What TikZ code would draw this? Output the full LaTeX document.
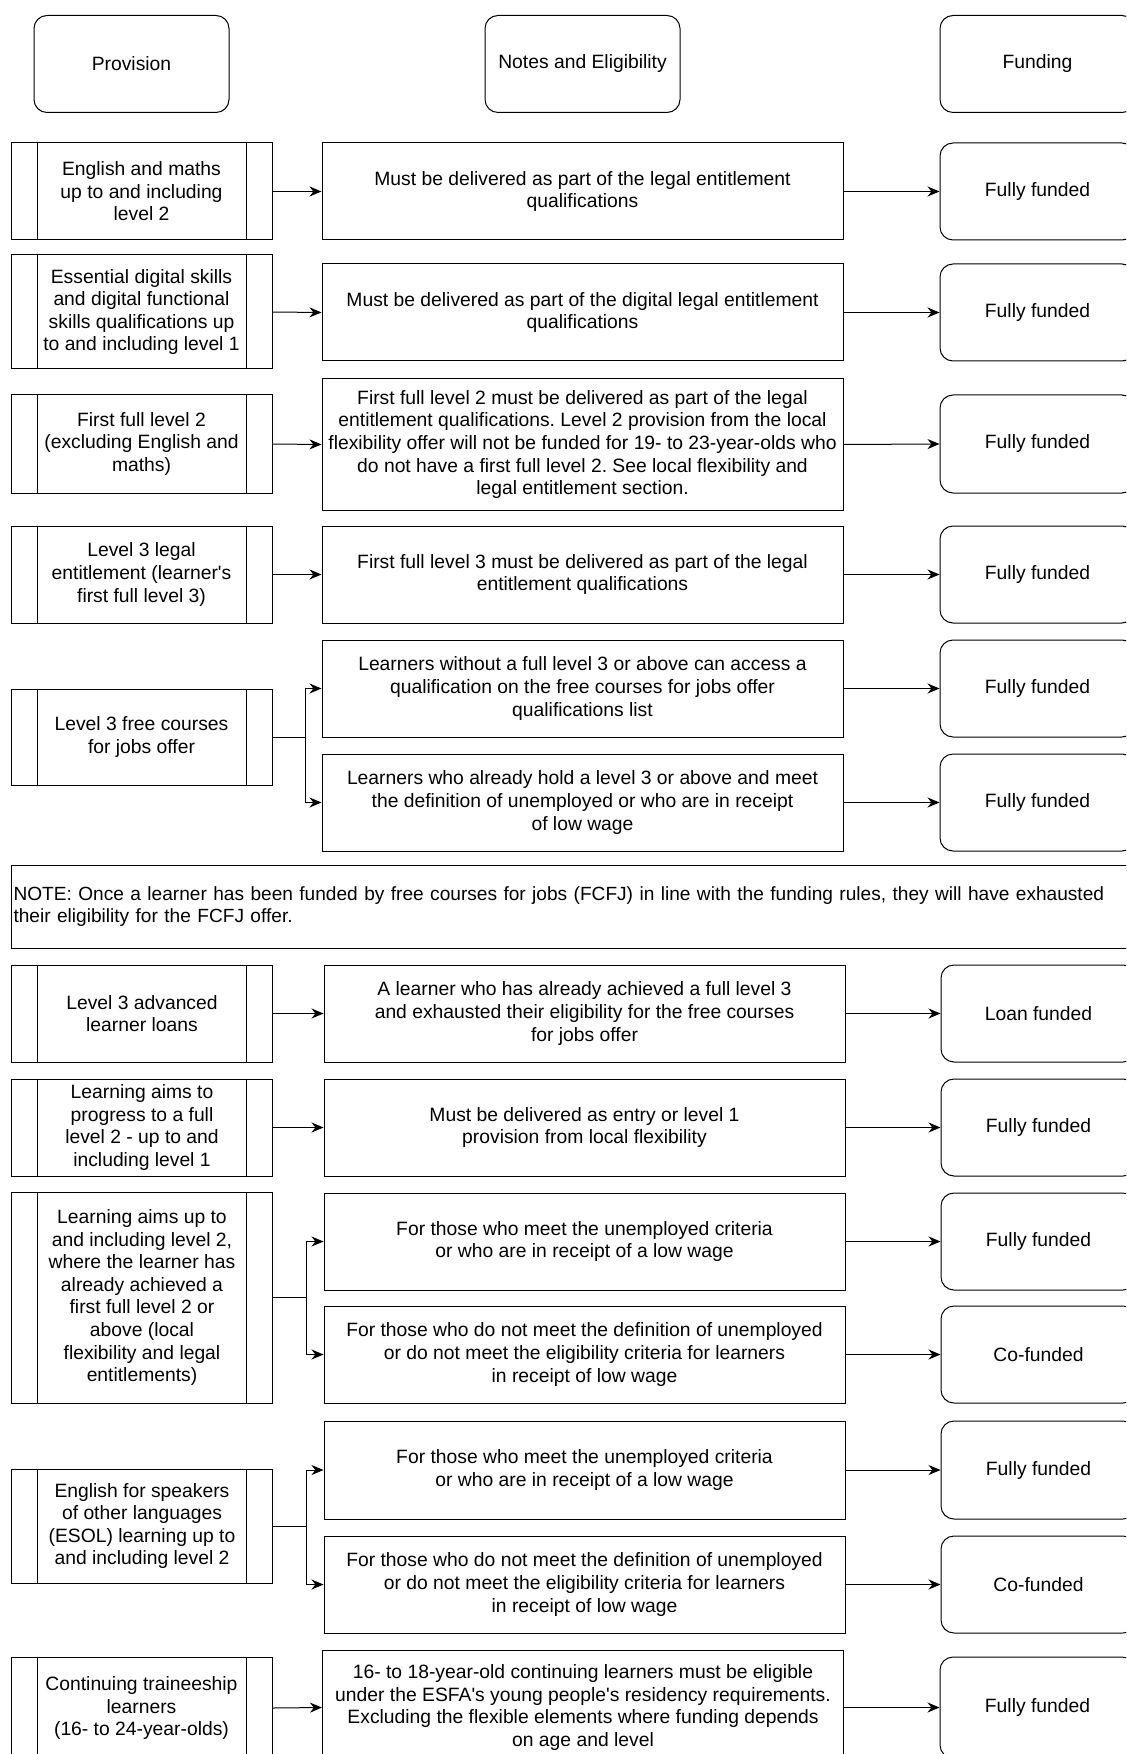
\documentclass[tikz,border=0pt]{standalone}
\usepackage{fontspec}
\setmainfont{Liberation Sans}
\usetikzlibrary{arrows.meta}

\tikzset{
  >={Stealth[length=6pt,width=5pt]},
  every node/.style={font=\fontsize{9.65}{11.3}\selectfont, align=center, inner sep=1pt},
  head/.style={draw, rounded corners=6.5pt, minimum width=97.5pt, minimum height=48.5pt},
  prov/.style={draw, minimum width=130.5pt, path picture={
      \draw ([xshift=13pt]path picture bounding box.north west) -- ([xshift=13pt]path picture bounding box.south west);
      \draw ([xshift=-13pt]path picture bounding box.north east) -- ([xshift=-13pt]path picture bounding box.south east);}},
  elig/.style={draw, minimum width=260.5pt},
  fund/.style={draw, rounded corners=6.5pt, minimum width=97.5pt},
  remark/.style={draw, anchor=west, text width=560pt, align=left, minimum height=41.5pt}
}

\begin{document}
\frenchspacing
\begin{tikzpicture}[x=0.5pt, y=-0.5pt, line width=0.5pt]

  \newcommand\Lx{141.5}
  \newcommand\Mx{582.5}
  \newcommand\Rx{1037.5}

  \useasboundingbox (0,0) rectangle (1126,1754);
  \clip (0,0) rectangle (1126,1754);

  % column headings
  \node[head] (hprov) at (131.5,64) {Provision};
  \node[head] (hnote) at (\Mx,64) {Notes and Eligibility};
  \node[head] (hfund) at (\Rx,64) {Funding};

  % English and maths
  \node[prov, minimum height=48.5pt] (l1) at (\Lx,191.5) {English and maths\\up to and including\\level 2};
  \node[elig, minimum height=48.5pt] (m1) at (\Mx,191.5) {Must be delivered as part of the legal entitlement\\qualifications};
  \node[fund, minimum height=48.5pt] (r1) at (\Rx,191.5) {Fully funded};

  % digital
  \node[prov, minimum height=57pt] (l2) at (\Lx,312) {Essential digital skills\\and digital functional\\skills qualifications up\\to and including level 1};
  \node[elig, minimum height=48.5pt] (m2) at (\Mx,312.5) {Must be delivered as part of the digital legal entitlement\\qualifications};
  \node[fund, minimum height=48.5pt] (r2) at (\Rx,312.5) {Fully funded};

  % first full level 2
  \node[prov, minimum height=49pt] (l3) at (\Lx,444) {First full level 2\\(excluding English and\\maths)};
  \node[elig, minimum height=65.5pt] (m3) at (\Mx,444.5) {First full level 2 must be delivered as part of the legal\\entitlement qualifications. Level 2 provision from the local\\flexibility offer will not be funded for 19- to 23-year-olds who\\do not have a first full level 2. See local flexibility and\\legal entitlement section.};
  \node[fund, minimum height=49pt] (r3) at (\Rx,444) {Fully funded};

  % level 3 legal entitlement
  \node[prov, minimum height=48.5pt] (l4) at (\Lx,574.5) {Level 3 legal\\entitlement (learner\textquotesingle s\\first full level 3)};
  \node[elig, minimum height=48.5pt] (m4) at (\Mx,574.5) {First full level 3 must be delivered as part of the legal\\entitlement qualifications};
  \node[fund, minimum height=48.5pt] (r4) at (\Rx,574.5) {Fully funded};

  % free courses for jobs
  \node[prov, minimum height=48pt] (l5) at (\Lx,737) {Level 3 free courses\\for jobs offer};
  \node[elig, minimum height=48.5pt] (m5a) at (\Mx,688.5) {Learners without a full level 3 or above can access a\\qualification on the free courses for jobs offer\\qualifications list};
  \node[elig, minimum height=48.5pt] (m5b) at (\Mx,802.5) {Learners who already hold a level 3 or above and meet\\the definition of unemployed or who are in receipt\\of low wage};
  \node[fund, minimum height=48.5pt] (r5a) at (\Rx,688.5) {Fully funded};
  \node[fund, minimum height=48.5pt] (r5b) at (\Rx,802.5) {Fully funded};

  \node[remark] (fcfj) at (11,906.5) {\fontsize{9.55}{11.3}\selectfont NOTE: Once a learner has been funded by free courses for jobs (FCFJ) in line with the funding rules, they will have exhausted\\their eligibility for the FCFJ offer.};

  \renewcommand\Lx{142}
  \renewcommand\Mx{584.5}
  \renewcommand\Rx{1038.5}

  % advanced learner loans
  \node[prov, minimum height=48.5pt] (l6) at (\Lx,1013.5) {Level 3 advanced\\learner loans};
  \node[elig, minimum height=48.5pt] (m6) at (\Mx,1013.5) {A learner who has already achieved a full level 3\\and exhausted their eligibility for the free courses\\for jobs offer};
  \node[fund, minimum height=48.5pt] (r6) at (\Rx,1013.5) {Loan funded};

  % progress to full level 2
  \node[prov, minimum height=48.5pt] (l7) at (\Lx,1127.5) {Learning aims to\\progress to a full\\level 2 - up to and\\including level 1};
  \node[elig, minimum height=48.5pt] (m7) at (\Mx,1127.5) {Must be delivered as entry or level 1\\provision from local flexibility};
  \node[fund, minimum height=48.5pt] (r7) at (\Rx,1127.5) {Fully funded};

  % already achieved level 2
  \node[prov, minimum height=105.5pt] (l8) at (\Lx,1297.5) {Learning aims up to\\and including level 2,\\where the learner has\\already achieved a\\first full level 2 or\\above (local\\flexibility and legal\\entitlements)};
  \node[elig, minimum height=48.5pt] (m8a) at (\Mx,1241.5) {For those who meet the unemployed criteria\\or who are in receipt of a low wage};
  \node[elig, minimum height=48.5pt] (m8b) at (\Mx,1354.5) {For those who do not meet the definition of unemployed\\or do not meet the eligibility criteria for learners\\in receipt of low wage};
  \node[fund, minimum height=48.5pt] (r8a) at (\Rx,1241.5) {Fully funded};
  \node[fund, minimum height=48.5pt] (r8b) at (\Rx,1354.5) {Co-funded};

  % ESOL
  \node[prov, minimum height=57pt] (l9) at (\Lx,1526) {English for speakers\\of other languages\\(ESOL) learning up to\\and including level 2};
  \node[elig, minimum height=49pt] (m9a) at (\Mx,1470) {For those who meet the unemployed criteria\\or who are in receipt of a low wage};
  \node[elig, minimum height=48.5pt] (m9b) at (\Mx,1584.5) {For those who do not meet the definition of unemployed\\or do not meet the eligibility criteria for learners\\in receipt of low wage};
  \node[fund, minimum height=49pt] (r9a) at (\Rx,1470) {Fully funded};
  \node[fund, minimum height=48.5pt] (r9b) at (\Rx,1584.5) {Co-funded};

  % traineeships
  \node[prov, minimum height=51pt] (l10) at (141.5,1708) {Continuing traineeship\\learners\\(16- to 24-year-olds)};
  \node[elig, minimum height=57.5pt] (m10) at (583,1707.5) {16- to 18-year-old continuing learners must be eligible\\under the ESFA\textquotesingle s young people\textquotesingle s residency requirements.\\Excluding the flexible elements where funding depends\\on age and level};
  \node[fund, minimum height=50.5pt] (r10) at (1037.5,1707.5) {Fully funded};

  \foreach \n in {1,2,3,4,6,7,10}
  {
    \draw[->] (l\n.east) -- (m\n.west);
    \draw[->] (m\n.east) -- (r\n.west);
  }

  \foreach \n in {5,8,9}
  {
    \coordinate (b\n) at ([xshift=16.5pt]l\n.east);
    \draw (l\n.east) -- (b\n);
    \draw[->] (b\n) |- (m\n a.west);
    \draw[->] (b\n) |- (m\n b.west);
    \draw[->] (m\n a.east) -- (r\n a.west);
    \draw[->] (m\n b.east) -- (r\n b.west);
  }

\end{tikzpicture}
\end{document}
